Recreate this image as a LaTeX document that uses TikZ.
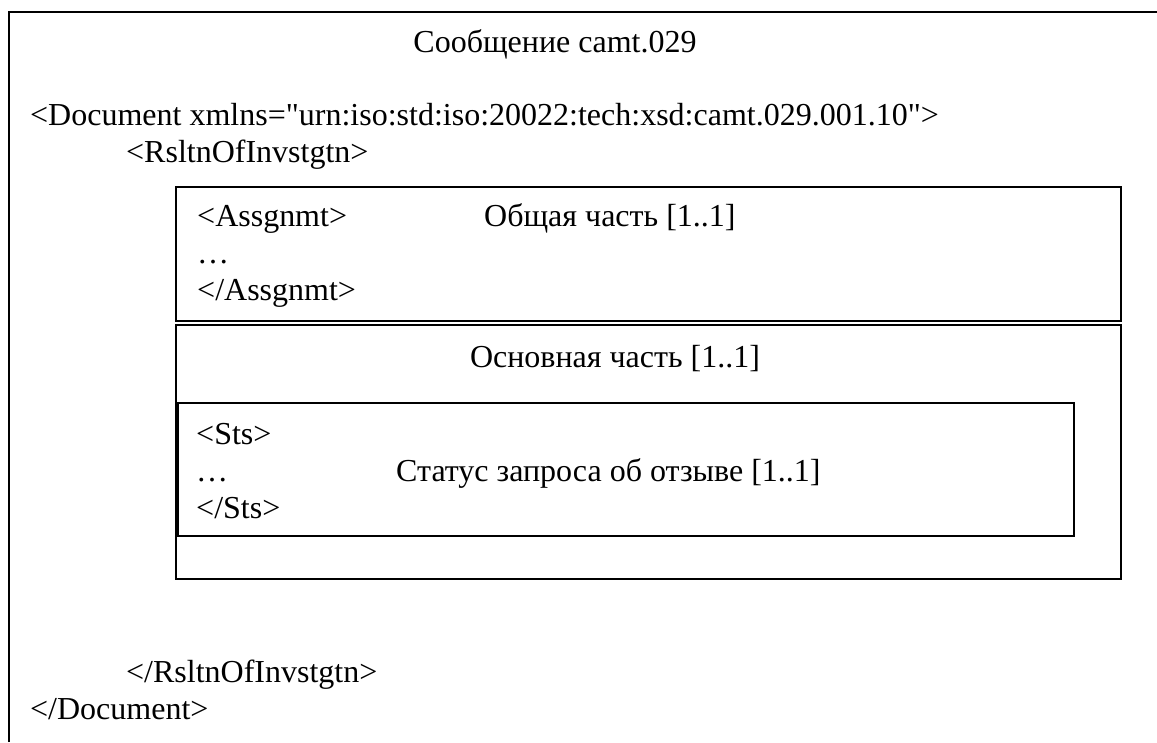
\documentclass[tikz,border=0pt]{standalone}
\usepackage{fontspec}
\setmainfont{Liberation Serif}[Ligatures=TeXOff]
\usepackage{tikz}

\tikzset{
  txt/.style={anchor=base west, inner sep=0pt, font=\fontsize{32}{37}\selectfont},
  ctxt/.style={anchor=base, inner sep=0pt, font=\fontsize{32}{37}\selectfont},
  frame/.style={line width=1.6pt}
}

\begin{document}
\begin{tikzpicture}[x=1pt,y=-1pt]
        \useasboundingbox (0,0) rectangle (1157,742);

        % Draw the frames
        \draw[frame] (9,742) -- (9,12) -- (1157,12);
        \draw[frame] (176,187) rectangle (1121,321);
        \draw[frame] (176,325) rectangle (1121,579);
        \draw[frame] (178,403) rectangle (1074,536);

        % Define nodes
        \node[ctxt] (title) at (555,52) {Сообщение camt.029};
        \node[txt] (doc) at (30,125) {<Document xmlns="urn:iso:std:iso:20022:tech:xsd:camt.029.001.10">};
        \node[txt] (rslt) at (126,162) {<RsltnOfInvstgtn>};

        \node[txt] (asgOpen) at (197,226) {<Assgnmt>};
        \node[txt] (asgDots) at (197,263) {…};
        \node[txt] (asgClose) at (197,300) {</Assgnmt>};
        \node[txt] (common) at (484,226) {Общая часть [1..1]};

        \node[ctxt] (mainPart) at (615,367) {Основная часть [1..1]};

        \node[txt] (stsOpen) at (196,444) {<Sts>};
        \node[txt] (stsDots) at (196,481) {…};
        \node[txt] (stsClose) at (196,518) {</Sts>};
        \node[txt] (status) at (396,481) {Статус запроса об отзыве [1..1]};

        \node[txt] (rsltClose) at (126,682) {</RsltnOfInvstgtn>};
        \node[txt] (docClose) at (30,719) {</Document>};
\end{tikzpicture}
\end{document}
